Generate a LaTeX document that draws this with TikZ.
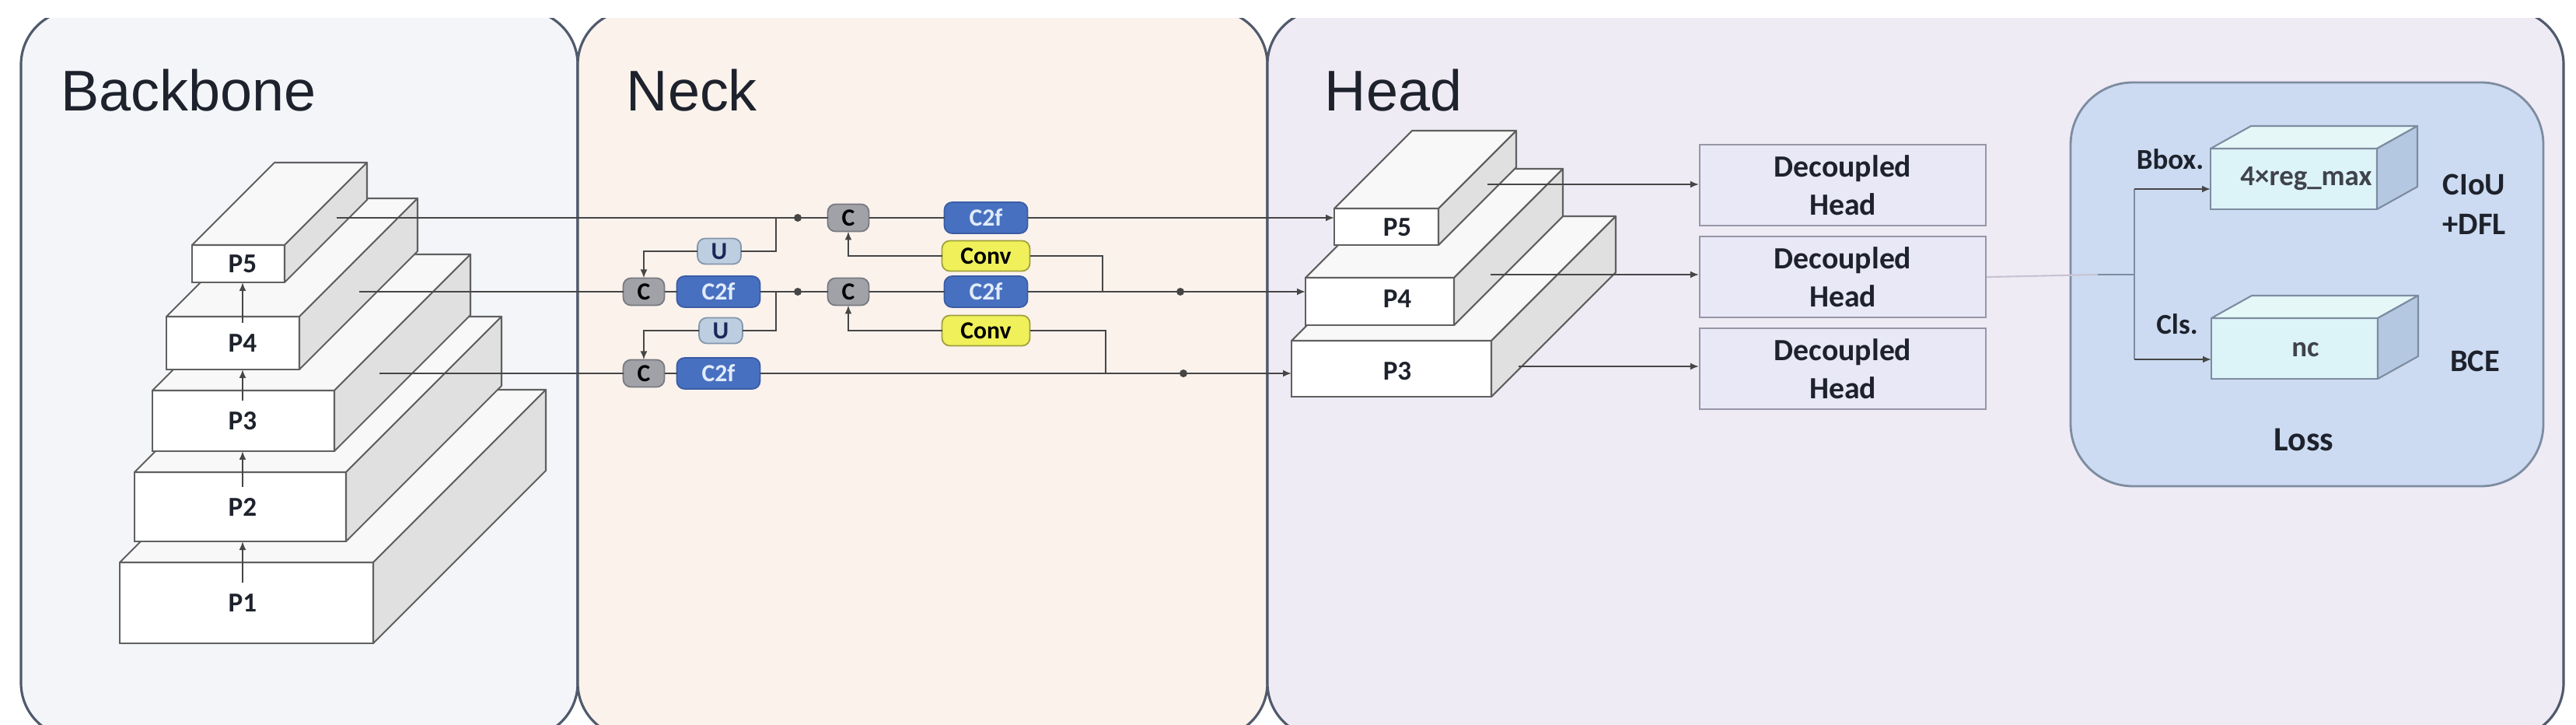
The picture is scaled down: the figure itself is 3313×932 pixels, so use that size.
\documentclass[tikz,border=0pt]{standalone}
\usepackage{fontspec}
\setmainfont{Carlito}
\newfontfamily\titlefont{Liberation Sans}
\usetikzlibrary{arrows.meta,positioning,calc}
\definecolor{bbfill}{RGB}{243,245,249}
\definecolor{neckfill}{RGB}{251,242,236}
\definecolor{headfill}{RGB}{239,235,245}
\definecolor{edge}{RGB}{80,90,108}
\definecolor{slabline}{RGB}{96,96,96}
\definecolor{slabtop}{RGB}{248,248,248}
\definecolor{slabside}{RGB}{224,224,224}
\definecolor{wirecol}{RGB}{70,70,70}
\definecolor{cgray}{RGB}{160,162,168}
\definecolor{cgrayline}{RGB}{120,122,128}
\definecolor{c2fblue}{RGB}{72,112,192}
\definecolor{c2fline}{RGB}{58,92,165}
\definecolor{c2ftext}{RGB}{225,235,250}
\definecolor{ublue}{RGB}{188,206,224}
\definecolor{uline}{RGB}{130,150,172}
\definecolor{navy}{RGB}{25,40,90}
\definecolor{convyellow}{RGB}{240,240,90}
\definecolor{convline}{RGB}{160,160,60}
\definecolor{dhfill}{RGB}{233,232,246}
\definecolor{dhline}{RGB}{150,150,168}
\definecolor{lossfill}{RGB}{204,219,241}
\definecolor{lossline}{RGB}{125,140,160}
\definecolor{lfront}{RGB}{220,243,248}
\definecolor{ltop}{RGB}{230,247,248}
\definecolor{lside}{RGB}{180,200,226}
\definecolor{ink}{RGB}{30,34,44}
\definecolor{faint}{RGB}{200,195,210}
\tikzset{
  panel/.style={draw=edge, line width=0.9pt, rounded corners=7mm},
  paneltitle/.style={font=\titlefont\fontsize{21}{25}\selectfont, anchor=base west, text=ink, inner sep=0pt},
  slabfront/.style={draw=slabline, fill=white, line width=0.6pt, outer sep=0pt, inner sep=0pt},
  topface/.style={draw=slabline, fill=slabtop, line width=0.6pt, line join=round},
  sideface/.style={draw=slabline, fill=slabside, line width=0.6pt, line join=round},
  plabel/.style={font=\bfseries\fontsize{10}{12}\selectfont, text=ink, inner sep=1pt},
  block/.style={rounded corners=1mm, line width=0.5pt, font=\bfseries\fontsize{9}{11}\selectfont, inner sep=0pt, outer sep=0pt},
  cbox/.style={block, fill=cgray, draw=cgrayline, minimum width=5.3mm, minimum height=3.5mm},
  c2fbox/.style={block, fill=c2fblue, draw=c2fline, text=c2ftext, minimum width=10.7mm, minimum height=4mm},
  ubox/.style={block, fill=ublue, draw=uline, text=navy, minimum width=5.6mm, minimum height=3.3mm},
  convbox/.style={block, fill=convyellow, draw=convline, minimum width=11.3mm, minimum height=3.9mm},
  wire/.style={draw=wirecol, line width=0.55pt},
  arr/.style={wire, -{Latex[length=1.1mm,width=0.9mm]}},
  uparr/.style={arr, shorten <=1mm},
  jdot/.style={fill=wirecol},
  dhead/.style={draw=dhline, fill=dhfill, line width=0.6pt, minimum width=36.8mm, minimum height=10.4mm, align=center, font=\bfseries\fontsize{11.3}{13.8}\selectfont, text=ink},
  losspanel/.style={draw=lossline, fill=lossfill, line width=0.8pt, rounded corners=8mm},
  lfrontface/.style={draw=lossline, fill=lfront, line width=0.6pt, outer sep=0pt, inner sep=0pt, minimum width=21.4mm, minimum height=7.8mm},
  ltopface/.style={draw=lossline, fill=ltop, line width=0.6pt, line join=round},
  lsideface/.style={draw=lossline, fill=lside, line width=0.6pt, line join=round},
  lwire/.style={draw=lossline, line width=0.6pt},
  ltext/.style={font=\bfseries\fontsize{10.5}{13}\selectfont, text=ink, align=center, inner sep=0pt},
  boxtext/.style={font=\bfseries\fontsize{10.5}{12}\selectfont, text=ink!85, inner sep=0pt}
}
\newcommand{\slabfaces}[5]{%
  \filldraw[#4] (#1.north west) -- ++(#2,-#3) -- ($(#1.north east)+(#2,-#3)$) -- (#1.north east) -- cycle;
  \filldraw[#5] (#1.north east) -- ++(#2,-#3) -- ($(#1.south east)+(#2,-#3)$) -- (#1.south east) -- cycle;
}

\begin{document}
\begin{tikzpicture}[x=0.1mm,y=-0.1mm]
\useasboundingbox (0,0) rectangle (3313,932);
\fill[white] (0,0) rectangle (3313,932);
\begin{scope}
\clip (0,24) rectangle (3313,932);
\filldraw[panel, fill=bbfill] (27,13) rectangle (743,948);
\filldraw[panel, fill=neckfill] (743,13) rectangle (1630,948);
\filldraw[panel, fill=headfill] (1630,13) rectangle (3297,948);
\end{scope}
\node[paneltitle] (tbb) at (78,143) {Backbone};
\node[paneltitle] (tneck) at (805,143) {Neck};
\node[paneltitle] (thead) at (1703,143) {Head};

\node[slabfront, minimum width=32.6mm, minimum height=10.4mm] (b1) at (317,775) {};
\slabfaces{b1}{222}{222}{topface}{sideface}
\node[slabfront, minimum width=27.2mm, minimum height=8.9mm] (b2) at (309,651.5) {};
\slabfaces{b2}{200}{200}{topface}{sideface}
\node[slabfront, minimum width=23.4mm, minimum height=7.8mm] (b3) at (313,541) {};
\slabfaces{b3}{175}{175}{topface}{sideface}
\node[slabfront, minimum width=17.1mm, minimum height=6.8mm] (b4) at (299.5,441) {};
\slabfaces{b4}{152}{152}{topface}{sideface}
\node[slabfront, minimum width=11.9mm, minimum height=4.8mm] (b5) at (306.5,339) {};
\slabfaces{b5}{106}{106}{topface}{sideface}
\node[plabel] (l1) at (312,775) {P1};
\node[plabel] (l2) at (312,652) {P2};
\node[plabel] (l3) at (312,541) {P3};
\node[plabel] (l4) at (312,441) {P4};
\node[plabel] (l5) at (312,339) {P5};
\draw[uparr] (l1.north) -- (l1.north |- b2.south);
\draw[uparr] (l2.north) -- (l2.north |- b3.south);
\draw[uparr] (l3.north) -- (l3.north |- b4.south);
\draw[uparr] (l4.north) -- (l4.north |- b5.south);

\node[slabfront, minimum width=25.7mm, minimum height=7.2mm] (h3) at (1789.5,474) {};
\slabfaces{h3}{160}{160}{topface}{sideface}
\node[slabfront, minimum width=19.1mm, minimum height=6.1mm] (h4) at (1774.5,387.5) {};
\slabfaces{h4}{140}{140}{topface}{sideface}
\node[slabfront, minimum width=13.4mm, minimum height=4.7mm] (h5) at (1783,291.5) {};
\slabfaces{h5}{100}{100}{topface}{sideface}
\node[plabel] (k3) at (1797,477) {P3};
\node[plabel] (k4) at (1797,384) {P4};
\node[plabel] (k5) at (1797,292) {P5};

\node[cbox] (ca) at (1091,280) {C};
\node[c2fbox] (fa) at (1268,280) {C2f};
\node[cbox] (cb) at (828,375) {C};
\node[c2fbox, right=1.6mm of cb] (fb) {C2f};
\node[cbox] (cc) at (1091,375) {C};
\node[c2fbox] (fc) at (1268,375) {C2f};
\node[cbox] (cd) at (828,480) {C};
\node[c2fbox, right=1.6mm of cd] (fd) {C2f};
\node[ubox] (ua) at (925,323) {U};
\node[ubox] (ub) at (927,425) {U};
\node[convbox] (va) at (1268,329) {Conv};
\node[convbox] (vb) at (1268,425) {Conv};

\coordinate (s5) at (433,280);
\coordinate (s4) at (462,375);
\coordinate (s3) at (488,480);
\coordinate (ja) at (998,280);
\coordinate (jb) at (998,375);
\coordinate (jc) at (1418,375);
\coordinate (jd) at (1422,480);
\coordinate (d1) at (1026,280);
\coordinate (d2) at (1026,375);
\coordinate (d3) at (1518,375);
\coordinate (d4) at (1522,480);

\draw[wire] (s5) -- (ca.west);
\draw[wire] (ca) -- (fa);
\draw[arr] (fa.east) -- (fa.east -| h5.west);
\draw[wire] (ja) |- (ua.east);
\draw[arr] (ua.west) -| (cb.north);
\draw[wire] (s4) -- (cb.west);
\draw[wire] (cb) -- (fb);
\draw[wire] (fb) -- (cc);
\draw[wire] (cc) -- (fc);
\draw[arr] (fc.east) -- (fc.east -| h4.west);
\draw[wire] (jb) |- (ub.east);
\draw[arr] (ub.west) -| (cd.north);
\draw[wire] (s3) -- (cd.west);
\draw[wire] (cd) -- (fd);
\draw[arr] (fd.east) -- (fd.east -| h3.west);
\draw[wire] (jc) |- (va.east);
\draw[arr] (va.west) -| (ca.south);
\draw[wire] (jd) |- (vb.east);
\draw[arr] (vb.west) -| (cc.south);
\foreach \d in {d1,d2,d3,d4} \fill[jdot] (\d) circle (0.5mm);

\node[dhead] (dh1) at (2370,238) {Decoupled\\Head};
\node[dhead, below=1.2mm of dh1] (dh2) {Decoupled\\Head};
\node[dhead, below=1.2mm of dh2] (dh3) {Decoupled\\Head};
\coordinate (ta) at (1913,237);
\coordinate (tb) at (1917,353);
\coordinate (tc) at (1953,471);
\draw[arr] (ta) -- (ta -| dh1.west);
\draw[arr] (tb) -- (tb -| dh2.west);
\draw[arr] (tc) -- (tc -| dh3.west);

\draw[losspanel] (2663,106) rectangle (3271,625);
\node[lfrontface] (lb1) at (2950,230) {};
\slabfaces{lb1}{52}{29}{ltopface}{lsideface}
\node[lfrontface] (lb2) at (2951,448) {};
\slabfaces{lb2}{52}{29}{ltopface}{lsideface}
\node[boxtext] (x1) at (2966,230) {4×reg\_max};
\node[boxtext] (x2) at (2965,450) {nc};
\coordinate (bk) at (2698,353);
\coordinate (bj) at (2745,353);
\coordinate (bt) at (2745,243);
\coordinate (bb) at (2745,462);
\draw[draw=faint, line width=0.6pt] (dh2.east) -- (bk);
\draw[lwire] (bk) -- (bj);
\draw[lwire] (bt) -- (bb);
\draw[arr] (bt) -- (bt -| lb1.west);
\draw[arr] (bb) -- (bb -| lb2.west);
\node[ltext] (nbox) at (2791,205) {Bbox.};
\node[ltext] (ncls) at (2800,417) {Cls.};
\node[ltext, font=\bfseries\fontsize{11.5}{14.5}\selectfont] (nciou) at (3182,263) {CIoU\\+DFL};
\node[ltext, font=\bfseries\fontsize{11.5}{14.5}\selectfont] (nbce) at (3183,464) {BCE};
\node[ltext, font=\bfseries\fontsize{12.5}{15}\selectfont] (nloss) at (2963,565) {Loss};
\end{tikzpicture}
\end{document}
